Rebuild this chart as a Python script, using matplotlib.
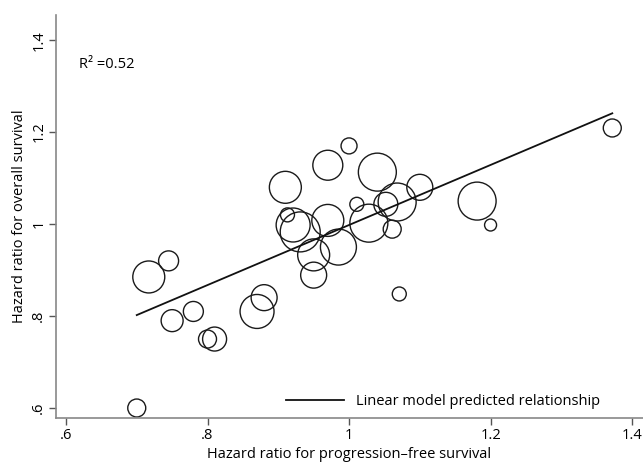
import numpy as np
import matplotlib
matplotlib.use("Agg")
import matplotlib.pyplot as plt

# hazard ratios per trial (progression-free vs overall survival), bubble ~ trial weight
hr_pfs = [0.70, 0.717, 0.745, 0.75, 0.78, 0.80, 0.81, 0.88, 0.87, 0.91,
          0.913, 0.921, 0.931, 0.970, 0.95, 0.95, 0.985, 0.97, 1.00, 1.04,
          1.011, 1.028, 1.052, 1.068, 1.061, 1.10, 1.071, 1.181, 1.20, 1.372]
hr_os = [0.60, 0.885, 0.92, 0.79, 0.81, 0.75, 0.75, 0.84, 0.81, 1.08,
         1.02, 0.998, 0.983, 1.008, 0.933, 0.889, 0.95, 1.128, 1.17, 1.113,
         1.043, 1.002, 1.043, 1.048, 0.989, 1.08, 0.848, 1.05, 0.998, 1.209]
weights = [81, 256, 100, 121, 100, 81, 144, 169, 289, 256,
           49, 289, 400, 256, 256, 169, 324, 225, 64, 361,
           49, 361, 144, 361, 81, 169, 49, 361, 36, 81]

# fitted linear model
intercept = 0.345
slope = 0.653
r2 = 0.52

plt.rcParams['font.family'] = ['Open Sans', 'DejaVu Sans']
fs = 10.5

fig = plt.figure(figsize=(6.43, 4.63), dpi=100)
ax = fig.add_axes([0.0871, 0.0972, 0.913, 0.870])

ax.scatter(hr_pfs, hr_os, s=np.array(weights) * 2.07, facecolors='none',
           edgecolors='#1a1a1a', linewidths=1.0, zorder=2)

xs = np.array([min(hr_pfs), max(hr_pfs)])
ax.plot(xs, intercept + slope * xs, color='#111111', lw=1.3, zorder=3,
        label='Linear model predicted relationship')

ax.text(0.618, 1.346, 'R\u00b2 =%.2f' % r2, fontsize=fs, va='center', ha='left')

ax.set_xlim(0.5859, 1.4155)
ax.set_ylim(0.5783, 1.4543)
ax.set_xticks([0.6, 0.8, 1.0, 1.2, 1.4])
ax.set_xticklabels(['.6', '.8', '1', '1.2', '1.4'])
ax.set_yticks([0.6, 0.8, 1.0, 1.2, 1.4])
ax.set_yticklabels(['.6', '.8', '1', '1.2', '1.4'], rotation=90, va='center')
ax.tick_params(direction='out', length=5, width=1, color='#555555',
               labelsize=fs, pad=2)

for side in ['top', 'right']:
    ax.spines[side].set_visible(False)
for side in ['left', 'bottom']:
    ax.spines[side].set_color('#888888')
    ax.spines[side].set_linewidth(1.2)

ax.set_xlabel('Hazard ratio for progression\u2013free survival', fontsize=fs, labelpad=3)
ax.set_ylabel('Hazard ratio for overall survival', fontsize=fs, labelpad=3)

ax.legend(loc='lower right', frameon=False, fontsize=fs, handlelength=4.0,
          borderaxespad=0.2, bbox_to_anchor=(0.941, 0.0))

fig.savefig('out.png', dpi=100)
